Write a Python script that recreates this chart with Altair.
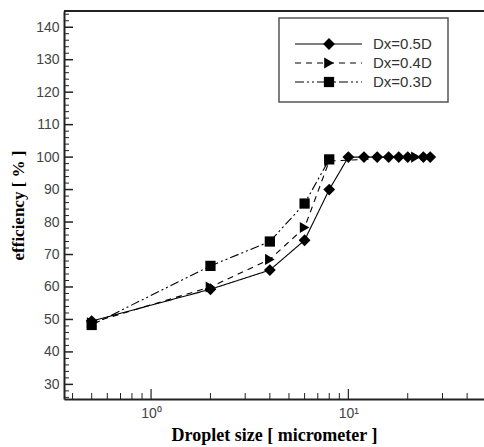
import altair as alt
import pandas as pd

series = ["Dx=0.5D", "Dx=0.4D", "Dx=0.3D"]

x_05 = [0.5, 2, 4, 6, 8, 10, 12, 14, 16, 18, 20, 24, 26]
y_05 = [49.5, 59.3, 65.2, 74.4, 90.0, 100, 100, 100, 100, 100, 100, 100, 100]
x_04 = [0.5, 2, 4, 6, 8, 22]
y_04 = [49.0, 60.0, 68.5, 78.3, 98.8, 100]
x_03 = [0.5, 2, 4, 6, 8]
y_03 = [48.3, 66.5, 74.0, 85.7, 99.3]

x_major = [1, 10]
x_minor = [0.4, 0.5, 0.6, 0.7, 0.8, 0.9, 2, 3, 4, 5, 6, 7, 8, 9, 20, 30, 40]
y_major = [30, 40, 50, 60, 70, 80, 90, 100, 110, 120, 130, 140]
y_minor = [26, 28, 32, 34, 36, 38, 42, 44, 46, 48, 52, 54, 56, 58, 62, 64, 66, 68,
           72, 74, 76, 78, 82, 84, 86, 88, 92, 94, 96, 98, 102, 104, 106, 108,
           112, 114, 116, 118, 122, 124, 126, 128, 132, 134, 136, 138, 142, 144]

W, H = 420, 388

rows = []
for name, xs, ys in [(series[0], x_05, y_05), (series[1], x_04, y_04), (series[2], x_03, y_03)]:
    for a, b in zip(xs, ys):
        rows.append({"series": name, "x": a, "y": b})
df = pd.DataFrame(rows)

xscale = alt.Scale(type="log", domain=[0.362, 48.7], nice=False)
yscale = alt.Scale(domain=[25.5, 145], nice=False, zero=False)
dash_scale = alt.Scale(domain=series, range=[[1, 0], [6, 5], [9, 3, 2, 3, 2, 3]])
shape_scale = alt.Scale(domain=series, range=["diamond", "triangle-right", "square"])
size_scale = alt.Scale(domain=series, range=[140, 105, 95])

xaxis = alt.Axis(values=x_major, ticks=False, grid=False, domain=True,
                 domainColor="#222", domainWidth=2,
                 labelExpr="datum.value == 1 ? '10⁰' : '10¹'",
                 labelFont="Liberation Sans", labelFontSize=14, labelColor="#444",
                 labelPadding=7,
                 title="Droplet size [ micrometer ]", titleFont="Liberation Serif",
                 titleFontSize=18, titleFontWeight="bold", titleColor="black",
                 titlePadding=6)
yaxis = alt.Axis(values=y_major, ticks=False, grid=False, domain=True,
                 domainColor="#222", domainWidth=2,
                 labelFont="Liberation Sans", labelFontSize=14, labelColor="#444",
                 labelPadding=5,
                 title="efficiency [ % ]", titleFont="Liberation Serif",
                 titleFontSize=17, titleFontWeight="bold", titleColor="black",
                 titlePadding=8)

lines = alt.Chart(df).mark_line(color="black", strokeWidth=1.1).encode(
    x=alt.X("x:Q", scale=xscale, axis=xaxis),
    y=alt.Y("y:Q", scale=yscale, axis=yaxis),
    strokeDash=alt.StrokeDash("series:N", scale=dash_scale, legend=None),
    detail="series:N",
)

def pts(name):
    return alt.Chart(df[df["series"] == name]).mark_point(filled=True, color="black", opacity=1).encode(
        x=alt.X("x:Q", scale=xscale, axis=xaxis),
        y=alt.Y("y:Q", scale=yscale, axis=yaxis),
        shape=alt.Shape("series:N", scale=shape_scale, legend=None),
        size=alt.Size("series:N", scale=size_scale, legend=None),
    )

pts04 = pts(series[1])
pts03 = pts(series[2])
pts05 = pts(series[0])

xmaj = alt.Chart(pd.DataFrame({"x": x_major})).mark_rule(color="#222", strokeWidth=1.2).encode(
    x=alt.X("x:Q", scale=xscale, axis=xaxis), y=alt.value(H), y2=alt.value(H - 10))
xmin = alt.Chart(pd.DataFrame({"x": x_minor})).mark_rule(color="#222", strokeWidth=1).encode(
    x=alt.X("x:Q", scale=xscale, axis=xaxis), y=alt.value(H), y2=alt.value(H - 6))
ymaj = alt.Chart(pd.DataFrame({"y": y_major})).mark_rule(color="#222", strokeWidth=1.5).encode(
    y=alt.Y("y:Q", scale=yscale, axis=yaxis), x=alt.value(0), x2=alt.value(9))
ymin = alt.Chart(pd.DataFrame({"y": y_minor})).mark_rule(color="#222", strokeWidth=1).encode(
    y=alt.Y("y:Q", scale=yscale, axis=yaxis), x=alt.value(0), x2=alt.value(5))

top = alt.Chart(pd.DataFrame({"a": [0]})).mark_rule(color="#222", strokeWidth=2).encode(
    x=alt.value(0), x2=alt.value(W), y=alt.value(0))

main = alt.layer(lines, pts04, pts03, pts05, xmin, xmaj, ymin, ymaj, top)

# legend
leg_df = pd.DataFrame({"series": series})
leg_y = alt.Y("series:N", scale=alt.Scale(type="point", domain=series, range=[33, 71], padding=0), axis=None)
box = alt.Chart(pd.DataFrame({"a": [0]})).mark_rect(fill="white", stroke="#555", strokeWidth=1.5).encode(
    x=alt.value(215), x2=alt.value(384), y=alt.value(7), y2=alt.value(91))
leg_lines = alt.Chart(leg_df).mark_rule(color="black", strokeWidth=1.1).encode(
    x=alt.value(231), x2=alt.value(298), y=leg_y,
    strokeDash=alt.StrokeDash("series:N", scale=dash_scale, legend=None))
leg_pts = alt.Chart(leg_df).mark_point(filled=True, color="black", opacity=1).encode(
    x=alt.value(265), y=leg_y,
    shape=alt.Shape("series:N", scale=shape_scale, legend=None),
    size=alt.Size("series:N", scale=size_scale, legend=None))
leg_text = alt.Chart(leg_df).mark_text(align="left", baseline="middle", font="Liberation Sans",
                                       fontSize=15, color="#333").encode(
    x=alt.value(309), y=leg_y, text="series:N")
legend = alt.layer(box, leg_lines, leg_pts, leg_text)

chart = alt.layer(main, legend).resolve_scale(y="independent").resolve_axis(
    x="independent", y="independent").properties(
    width=W, height=H,
    autosize=alt.AutoSizeParams(type="none"),
    padding={"left": 64, "top": 11, "right": 0, "bottom": 48},
).configure_view(stroke=None).configure(background="white")

chart.save("out.html", embed_options={"renderer": "svg", "actions": False})
